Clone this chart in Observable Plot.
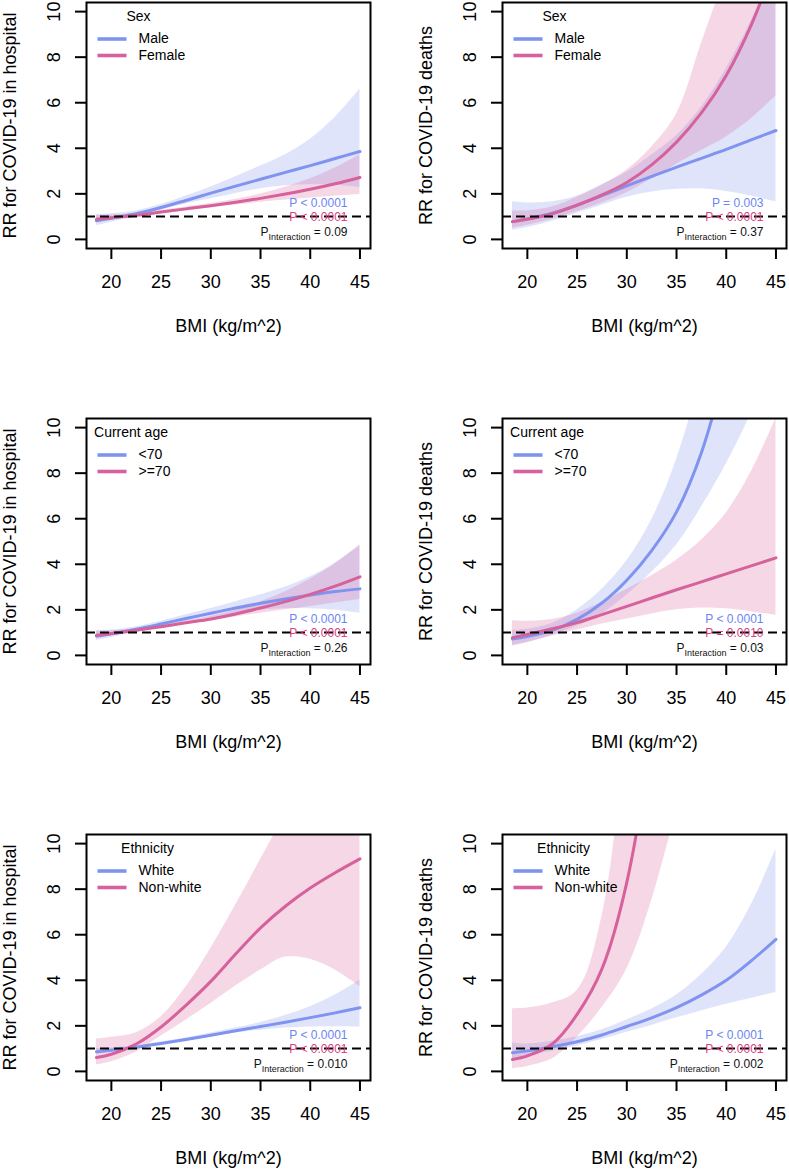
<!DOCTYPE html>
<html><head><meta charset="utf-8">
<script src="https://cdn.jsdelivr.net/npm/d3@7"></script>
<script src="https://cdn.jsdelivr.net/npm/@observablehq/plot@0.6"></script>
<style>
html,body{margin:0;padding:0;background:#fff;}
#root{position:relative;width:789px;height:1171px;overflow:hidden;background:#fff;}
.panel{position:absolute;width:416px;height:416px;}
</style></head><body><div id="root"></div>
<script>
// ---------- data ----------
const bmi = [18.5, 20, 22.5, 25, 27.5, 30, 32.5, 35, 37.5, 40, 42.5, 45];
const xTicks = [20, 25, 30, 35, 40, 45];
const yTicks = [0, 2, 4, 6, 8, 10];

// Hospital, Sex
const hospMale     = [0.82, 0.93, 1.13, 1.40, 1.71, 2.03, 2.34, 2.64, 2.94, 3.24, 3.55, 3.86];
const hospMaleLo   = [0.60, 0.75, 1.00, 1.28, 1.55, 1.78, 2.02, 2.22, 2.35, 2.40, 2.38, 2.28];
const hospMaleHi   = [1.10, 1.13, 1.25, 1.53, 1.90, 2.30, 2.75, 3.22, 3.72, 4.40, 5.35, 6.60];
const hospFemale   = [0.88, 0.95, 1.06, 1.20, 1.34, 1.48, 1.63, 1.80, 1.99, 2.20, 2.44, 2.72];
const hospFemaleLo = [0.74, 0.84, 0.99, 1.13, 1.25, 1.39, 1.51, 1.63, 1.73, 1.82, 1.90, 1.97];
const hospFemaleHi = [1.05, 1.07, 1.14, 1.27, 1.42, 1.58, 1.76, 1.99, 2.29, 2.66, 3.13, 3.72];

// Deaths, Sex
const deathMale     = [0.78, 0.90, 1.15, 1.50, 1.92, 2.35, 2.77, 3.17, 3.56, 3.95, 4.37, 4.78];
const deathMaleLo   = [0.40, 0.52, 0.80, 1.15, 1.50, 1.85, 2.08, 2.20, 2.22, 2.10, 1.90, 1.65];
const deathMaleHi   = [1.65, 1.60, 1.65, 1.90, 2.40, 2.95, 3.70, 4.55, 5.80, 7.50, 9.60, 12.0];
const deathFemale   = [0.78, 0.88, 1.12, 1.50, 1.95, 2.50, 3.27, 4.27, 5.55, 7.20, 9.40, 12.2];
const deathFemaleLo = [0.50, 0.62, 0.88, 1.22, 1.60, 2.05, 2.65, 3.30, 3.90, 4.50, 5.30, 6.30];
const deathFemaleHi = [1.25, 1.25, 1.42, 1.85, 2.38, 3.05, 4.05, 5.50, 8.60, 11.8, 16.5, 23.6];

// Hospital, Current age
const hospU70   = [0.85, 0.95, 1.15, 1.38, 1.62, 1.85, 2.08, 2.29, 2.48, 2.65, 2.80, 2.92];
const hospU70Lo = [0.65, 0.78, 1.04, 1.28, 1.48, 1.66, 1.83, 1.98, 2.05, 2.05, 1.98, 1.85];
const hospU70Hi = [1.10, 1.12, 1.26, 1.50, 1.78, 2.06, 2.36, 2.66, 3.00, 3.45, 4.05, 4.80];
const hospO70   = [0.88, 0.96, 1.10, 1.26, 1.43, 1.60, 1.82, 2.08, 2.36, 2.68, 3.04, 3.45];
const hospO70Lo = [0.73, 0.85, 1.03, 1.19, 1.36, 1.50, 1.68, 1.85, 2.00, 2.15, 2.30, 2.45];
const hospO70Hi = [1.05, 1.08, 1.17, 1.34, 1.51, 1.71, 1.97, 2.34, 2.79, 3.34, 4.02, 4.86];

// Deaths, Current age
const deathU70   = [0.72, 0.83, 1.10, 1.58, 2.30, 3.30, 4.60, 6.30, 8.90, 12.8, 18.0, 25.0];
const deathU70Lo = [0.45, 0.58, 0.88, 1.28, 1.82, 2.65, 3.65, 4.85, 6.50, 8.40, 10.6, 13.0];
const deathU70Hi = [1.10, 1.15, 1.40, 2.00, 2.90, 4.15, 5.95, 8.60, 12.5, 19.0, 30.0, 48.0];
const deathO70   = [0.78, 0.92, 1.17, 1.44, 1.79, 2.15, 2.52, 2.88, 3.23, 3.58, 3.93, 4.28];
const deathO70Lo = [0.40, 0.55, 0.85, 1.12, 1.38, 1.60, 1.82, 2.00, 2.08, 2.05, 1.92, 1.76];
const deathO70Hi = [1.52, 1.50, 1.58, 1.85, 2.33, 2.90, 3.50, 4.18, 5.05, 6.25, 8.05, 10.4];

// Hospital, Ethnicity
const hospWhite    = [0.86, 0.93, 1.06, 1.22, 1.40, 1.59, 1.78, 1.97, 2.16, 2.36, 2.57, 2.79];
const hospWhiteLo  = [0.73, 0.84, 0.99, 1.15, 1.33, 1.51, 1.68, 1.81, 1.90, 1.95, 1.96, 1.95];
const hospWhiteHi  = [1.01, 1.03, 1.13, 1.29, 1.47, 1.68, 1.90, 2.15, 2.45, 2.84, 3.35, 4.00];
const hospNonWhite   = [0.61, 0.75, 1.20, 1.95, 2.90, 3.95, 5.15, 6.30, 7.25, 8.05, 8.72, 9.33];
const hospNonWhiteLo = [0.28, 0.42, 0.85, 1.55, 2.25, 2.98, 3.75, 4.45, 5.02, 4.92, 4.45, 3.72];
const hospNonWhiteHi = [1.42, 1.50, 1.70, 2.40, 3.70, 5.40, 7.30, 9.30, 11.3, 13.4, 17.0, 23.0];

// Deaths, Ethnicity
const deathWhite    = [0.82, 0.90, 1.08, 1.30, 1.60, 1.97, 2.35, 2.80, 3.35, 4.00, 4.85, 5.80];
const deathWhiteLo  = [0.55, 0.68, 0.88, 1.12, 1.40, 1.72, 2.02, 2.35, 2.65, 2.95, 3.20, 3.46];
const deathWhiteHi  = [1.25, 1.20, 1.32, 1.52, 1.83, 2.26, 2.74, 3.35, 4.25, 5.45, 7.30, 9.75];
const deathNonWhite   = [0.52, 0.68, 1.20, 2.50, 4.50, 8.30, 15.0, 27.0, null, null, null, null];
const deathNonWhiteLo = [0.12, 0.22, 0.55, 1.50, 2.80, 4.50, 7.50, 11.5, null, null, null, null];
const deathNonWhiteHi = [2.75, 2.78, 3.00, 3.55, 6.80, 16.0, 35.0, 70.0, null, null, null, null];

const yTitles = ["RR for COVID-19 in hospital", "RR for COVID-19 deaths"];
const xTitle = "BMI (kg/m^2)";
const legendTitles = ["Sex", "Current age", "Ethnicity"];
const groupLabels = [["Male", "Female"], ["<70", ">=70"], ["White", "Non-white"]];
const pBlue = ["P < 0.0001", "P = 0.003", "P < 0.0001", "P < 0.0001", "P < 0.0001", "P < 0.0001"];
const pPink = ["P < 0.0001", "P < 0.0001", "P < 0.0001", "P = 0.0010", "P < 0.0001", "P < 0.0001"];
const pInteraction = ["0.09", "0.37", "0.26", "0.03", "0.010", "0.002"];

// ---------- styling ----------
const blue = "#7F93EF", pink = "#D6619B";
const blueText = "#6C84F2", pinkText = "#DC3F80";
const legendTitleDx = [52, 44.5, 61];
const FONT = "'Liberation Sans', Arial, Helvetica, sans-serif";
const CURVE = "catmull-rom";

const series = [
  [[hospMale, hospMaleLo, hospMaleHi], [hospFemale, hospFemaleLo, hospFemaleHi]],
  [[deathMale, deathMaleLo, deathMaleHi], [deathFemale, deathFemaleLo, deathFemaleHi]],
  [[hospU70, hospU70Lo, hospU70Hi], [hospO70, hospO70Lo, hospO70Hi]],
  [[deathU70, deathU70Lo, deathU70Hi], [deathO70, deathO70Lo, deathO70Hi]],
  [[hospWhite, hospWhiteLo, hospWhiteHi], [hospNonWhite, hospNonWhiteLo, hospNonWhiteHi]],
  [[deathWhite, deathWhiteLo, deathWhiteHi], [deathNonWhite, deathNonWhiteLo, deathNonWhiteHi]]
];

const legendBar = {draw(ctx) { ctx.moveTo(-14.5, -1.8); ctx.lineTo(14.5, -1.8); ctx.lineTo(14.5, 1.8); ctx.lineTo(-14.5, 1.8); ctx.closePath(); }};

function table([fit, lo, hi]) {
  return bmi.map((x, i) => ({x, fit: fit[i], lo: lo[i], hi: hi[i]}));
}

const root = document.getElementById("root");
series.forEach((s, k) => {
  const row = Math.floor(k / 2), col = k % 2;
  const g1 = table(s[0]), g2 = table(s[1]);
  const tx = (arr, o) => Plot.text(arr, {text: d => d, ...o});
  const chart = Plot.plot({
    width: 416, height: 416,
    marginLeft: 86, marginRight: 46, marginTop: 2, marginBottom: 168,
    x: {domain: [17.5, 46.06]},
    y: {domain: [-0.4, 10.4]},
    style: {fontFamily: FONT, fontSize: "18px", color: "black", background: "white", overflow: "visible"},
    marks: [
      Plot.areaY(g1, {x: "x", y1: "lo", y2: "hi", fill: blue, fillOpacity: 0.25, curve: CURVE, clip: true}),
      Plot.areaY(g2, {x: "x", y1: "lo", y2: "hi", fill: pink, fillOpacity: 0.25, curve: CURVE, clip: true}),
      Plot.lineY(g1, {x: "x", y: "fit", stroke: blue, strokeWidth: 3, curve: CURVE, clip: true}),
      Plot.lineY(g2, {x: "x", y: "fit", stroke: pink, strokeWidth: 3, curve: CURVE, clip: true}),
      Plot.ruleY([1], {stroke: "black", strokeWidth: 2, strokeDasharray: "9,5"}),
      Plot.frame({stroke: "black", strokeWidth: 2}),
      Plot.axisX({ticks: xTicks, tickSize: 11, tickPadding: 16, fontSize: 18, strokeWidth: 2, label: null, tickFormat: d => String(d)}),
      Plot.axisY({ticks: yTicks, tickSize: 11, tickPadding: 16, fontSize: 18, strokeWidth: 2, label: null, tickFormat: () => ""}),
      Plot.text(yTicks, {y: d => d, text: d => String(d), frameAnchor: "left", dx: -27, rotate: -90, fontSize: 18, textAnchor: "middle", lineAnchor: "bottom", ariaLabel: "ytick-label"}),
      tx([yTitles[col]], {frameAnchor: "left", dx: -76, rotate: -90, fontSize: 18, textAnchor: "middle", lineAnchor: "middle"}),
      tx([xTitle], {frameAnchor: "bottom", dy: 78, fontSize: 18, textAnchor: "middle", lineAnchor: "middle"}),
      // legend
      tx([legendTitles[row]], {frameAnchor: "top-left", dx: legendTitleDx[row], dy: 14, fontSize: 14, textAnchor: "middle", lineAnchor: "middle"}),
      Plot.dot([0], {frameAnchor: "top-left", dx: 25.5, dy: 36.5, symbol: legendBar, fill: blue, stroke: "none"}),
      Plot.dot([0], {frameAnchor: "top-left", dx: 25.5, dy: 53, symbol: legendBar, fill: pink, stroke: "none"}),
      tx([groupLabels[row][0]], {frameAnchor: "top-left", dx: 52, dy: 36.5, fontSize: 14, textAnchor: "start", lineAnchor: "middle"}),
      tx([groupLabels[row][1]], {frameAnchor: "top-left", dx: 52, dy: 53, fontSize: 14, textAnchor: "start", lineAnchor: "middle"}),
      // p-values
      tx([pBlue[k]], {frameAnchor: "bottom-right", dx: -23, dy: -45.5, fontSize: 12, textAnchor: "end", lineAnchor: "middle", fill: blueText}),
      tx([pPink[k]], {frameAnchor: "bottom-right", dx: -23, dy: -31.5, fontSize: 12, textAnchor: "end", lineAnchor: "middle", fill: pinkText}),
      tx(["PINT|" + pInteraction[k]], {frameAnchor: "bottom-right", dx: -23, dy: -16.5, fontSize: 12, textAnchor: "end", lineAnchor: "middle", fill: "#111"})
    ]
  });
  const ns = "http://www.w3.org/2000/svg";
  // make sure the y tick labels are rotated (R style, las = 0)
  chart.querySelectorAll('g[aria-label="ytick-label"] text').forEach(t => {
    const tr = t.getAttribute("transform") || "";
    if (!/rotate/.test(tr)) {
      if (tr) t.setAttribute("transform", tr + " rotate(-90)");
      else t.setAttribute("transform", `rotate(-90 ${t.getAttribute("x") || 0} ${t.getAttribute("y") || 0})`);
    }
  });
  chart.querySelectorAll("text").forEach(t => {
    const str = t.textContent;
    if (str.startsWith("PINT|")) {
      const v = str.slice(5);
      while (t.firstChild) t.removeChild(t.firstChild);
      const a = document.createElementNS(ns, "tspan"); a.textContent = "P";
      const b = document.createElementNS(ns, "tspan"); b.textContent = "Interaction";
      b.setAttribute("font-size", "9"); b.setAttribute("dy", "4");
      const c = document.createElementNS(ns, "tspan"); c.textContent = " = " + v; c.setAttribute("dy", "-4");
      t.append(a, b, c);
    }
  });
  const div = document.createElement("div");
  div.className = "panel";
  div.style.left = (col * 416) + "px";
  div.style.top = (row * 416) + "px";
  div.appendChild(chart);
  root.appendChild(div);
});
</script>
</body></html>
